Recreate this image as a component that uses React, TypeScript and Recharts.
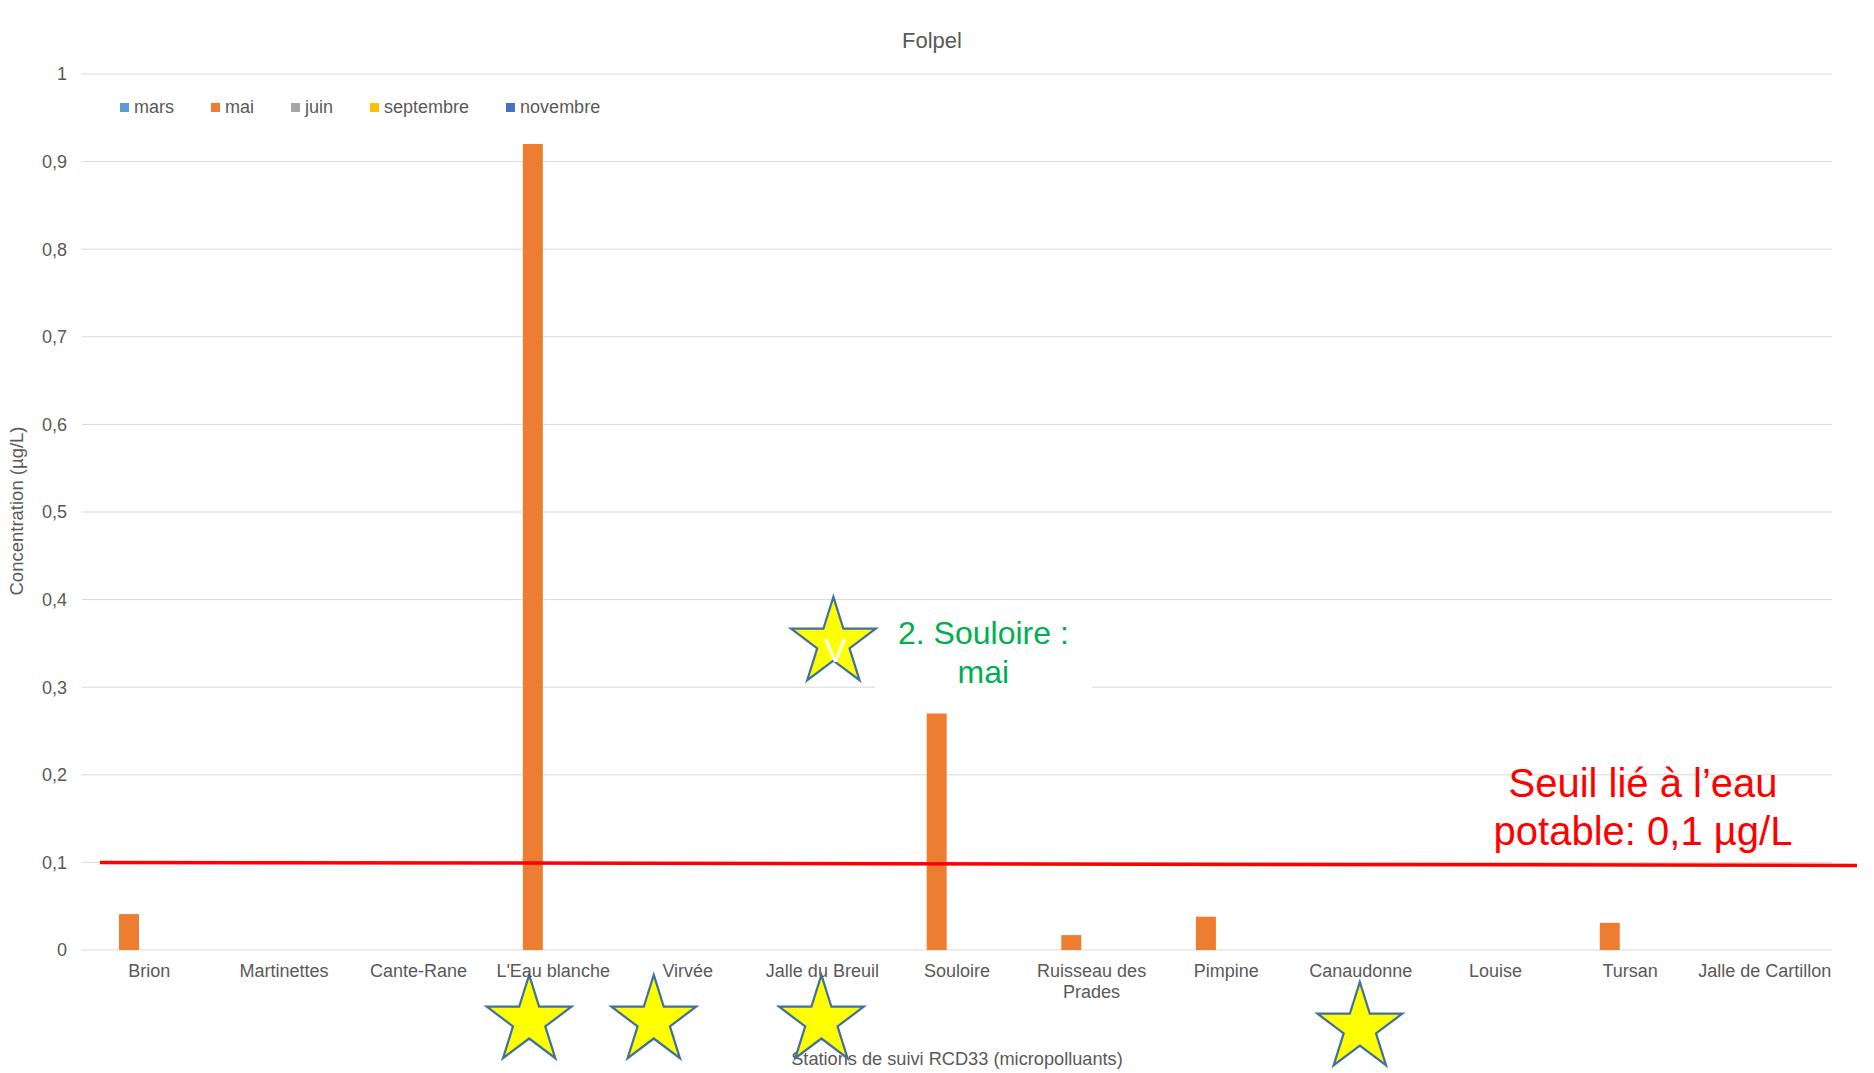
import React from "react";
import {
  BarChart,
  Bar,
  XAxis,
  YAxis,
  CartesianGrid,
  Legend,
  ReferenceLine,
  ReferenceDot,
  Text,
} from "recharts";

const FONT = "'Liberation Sans', Arial, sans-serif";
const GREY = "#595959";

const stations = [
  "Brion",
  "Martinettes",
  "Cante-Rane",
  "L'Eau blanche",
  "Virvée",
  "Jalle du Breuil",
  "Souloire",
  "Ruisseau des Prades",
  "Pimpine",
  "Canaudonne",
  "Louise",
  "Tursan",
  "Jalle de Cartillon",
];

const mars = [null, null, null, null, null, null, null, null, null, null, null, null, null];
const mai = [0.041, null, null, 0.92, null, null, 0.27, 0.017, 0.038, null, null, 0.031, null];
const juin = [null, null, null, null, null, null, null, null, null, null, null, null, null];
const septembre = [null, null, null, null, null, null, null, null, null, null, null, null, null];
const novembre = [null, null, null, null, null, null, null, null, null, null, null, null, null];

const seriesNames = ["mars", "mai", "juin", "septembre", "novembre"];
const seriesColors = ["#5B9BD5", "#ED7D31", "#A5A5A5", "#FFC000", "#4472C4"];

const yTicks = [0, 0.1, 0.2, 0.3, 0.4, 0.5, 0.6, 0.7, 0.8, 0.9, 1];
const seuil = 0.1;

// stars drawn under some station names
const starMarks = [
  { station: "L'Eau blanche", y: -0.081, dx: -24 },
  { station: "Virvée", y: -0.081, dx: -34 },
  { station: "Jalle du Breuil", y: -0.081, dx: -1 },
  { station: "Canaudonne", y: -0.089, dx: -1 },
];

const data = stations.map((station, i) => ({
  station,
  mars: mars[i],
  mai: mai[i],
  juin: juin[i],
  septembre: septembre[i],
  novembre: novembre[i],
}));

function starPoints(cx: number, cy: number, rx: number, ry: number) {
  const pts: string[] = [];
  for (let k = 0; k < 10; k++) {
    const a = -Math.PI / 2 + (k * Math.PI) / 5;
    const f = k % 2 === 0 ? 1 : 0.382;
    pts.push(`${cx + rx * f * Math.cos(a)},${cy + ry * f * Math.sin(a)}`);
  }
  return pts.join(" ");
}

const Star = ({ cx, cy }: { cx: number; cy: number }) => (
  <polygon points={starPoints(cx, cy, 44.5, 46)} fill="#FFFF00" stroke="#41719C" strokeWidth={2.25} />
);

const CategoryTick = (props: any) => {
  const { x, y, payload } = props;
  return (
    <Text
      x={x}
      y={y}
      width={140}
      textAnchor="middle"
      verticalAnchor="start"
      lineHeight="1.17em"
      fontSize={18}
      fontFamily={FONT}
      fill={GREY}
      style={{ fontSize: 18, fontFamily: FONT }}
    >
      {payload.value}
    </Text>
  );
};

const LegendContent = () => (
  <div
    style={{
      display: "flex",
      alignItems: "center",
      fontFamily: FONT,
      fontSize: 18,
      lineHeight: "20px",
      color: GREY,
      whiteSpace: "nowrap",
    }}
  >
    {seriesNames.map((name, i) => (
      <div key={name} style={{ display: "flex", alignItems: "center", marginRight: 37 }}>
        <span style={{ display: "inline-block", width: 9, height: 9, background: seriesColors[i], marginRight: 5 }} />
        {name}
      </div>
    ))}
  </div>
);

export default function App() {
  return (
    <div style={{ position: "absolute", left: 0, top: 0, width: 1874, height: 1073, background: "#fff" }}>
      <div
        style={{
          position: "absolute",
          top: 29.5,
          left: 0,
          width: 1864,
          textAlign: "center",
          fontFamily: FONT,
          fontSize: 22,
          lineHeight: "22px",
          color: GREY,
          zIndex: 2,
        }}
      >
        Folpel
      </div>
      <BarChart
        width={1874}
        height={1073}
        data={data}
        margin={{ top: 74, right: 42, bottom: 0, left: 0 }}
        barGap={0}
        barCategoryGap={17}
      >
        <CartesianGrid vertical={false} stroke="#D9D9D9" />
        <XAxis
          dataKey="station"
          interval={0}
          height={123}
          axisLine={false}
          tickLine={false}
          tickSize={0}
          tickMargin={14}
          tick={(p: any) => <CategoryTick {...p} />}
          label={{
            content: (p: any) => {
              const vb = p.viewBox || { x: 82, y: 950, width: 1750, height: 123 };
              return (
                <text
                  x={vb.x + vb.width / 2}
                  y={vb.y + 115}
                  textAnchor="middle"
                  fontFamily={FONT}
                  fontSize={18.2}
                  fill={GREY}
                >
                  Stations de suivi RCD33 (micropolluants)
                </text>
              );
            },
          }}
        />
        <YAxis
          type="number"
          width={82}
          domain={[0, 1]}
          ticks={yTicks}
          interval={0}
          axisLine={false}
          tickLine={false}
          tickSize={0}
          tickMargin={15}
          tickFormatter={(v: number) => String(v).replace(".", ",")}
          tick={{ fontSize: 18, fill: GREY, fontFamily: FONT }}
          label={{
            content: (p: any) => {
              const vb = p.viewBox || { x: 0, y: 74, width: 82, height: 876 };
              const cx = vb.x + 23;
              const cy = vb.y + vb.height / 2 - 1;
              return (
                <text
                  transform={`translate(${cx}, ${cy}) rotate(-90)`}
                  textAnchor="middle"
                  fontFamily={FONT}
                  fontSize={18.5}
                  fill={GREY}
                >
                  Concentration (µg/L)
                </text>
              );
            },
          }}
        />
        <Legend
          layout="vertical"
          verticalAlign="middle"
          align="center"
          wrapperStyle={{ top: 97, left: 120, width: "auto" }}
          content={() => <LegendContent />}
        />
        {seriesNames.map((name, i) => (
          <Bar key={name} dataKey={name} name={name} fill={seriesColors[i]} isAnimationActive={false} />
        ))}
        <ReferenceLine
          y={seuil}
          ifOverflow="visible"
          shape={(p: any) => (
            <g>
              <line x1={p.x1 + 18} y1={p.y1} x2={p.x2 + 25} y2={p.y2 + 3} stroke="#FF0000" strokeWidth={3.5} />
              <text
                x={p.x2 - 189}
                textAnchor="middle"
                fontFamily={FONT}
                fontSize={40}
                fill="#FF0000"
              >
                <tspan x={p.x2 - 189} y={p.y1 - 65}>Seuil lié à l’eau</tspan>
                <tspan x={p.x2 - 189} y={p.y1 - 17}>potable: 0,1 µg/L</tspan>
              </text>
            </g>
          )}
        />
        <ReferenceDot
          x="Jalle du Breuil"
          y={0.3505}
          ifOverflow="visible"
          shape={(p: any) => (
            <g>
              <rect x={p.cx + 53} y={p.cy - 40} width={217} height={99} fill="#FFFFFF" />
              <Star cx={p.cx + 11} cy={p.cy} />
              <text x={p.cx + 13} y={p.cy + 19} textAnchor="middle" fontFamily={FONT} fontSize={33} fill="#FFFFFF">
                V
              </text>
              <text textAnchor="middle" fontFamily={FONT} fontSize={32} fill="#00B050">
                <tspan x={p.cx + 161} y={p.cy + 1}>2. Souloire :</tspan>
                <tspan x={p.cx + 161} y={p.cy + 40}>mai</tspan>
              </text>
            </g>
          )}
        />
        {starMarks.map((s) => (
          <ReferenceDot
            key={s.station}
            x={s.station}
            y={s.y}
            ifOverflow="visible"
            shape={(p: any) => <Star cx={p.cx + s.dx} cy={p.cy} />}
          />
        ))}
      </BarChart>
    </div>
  );
}
